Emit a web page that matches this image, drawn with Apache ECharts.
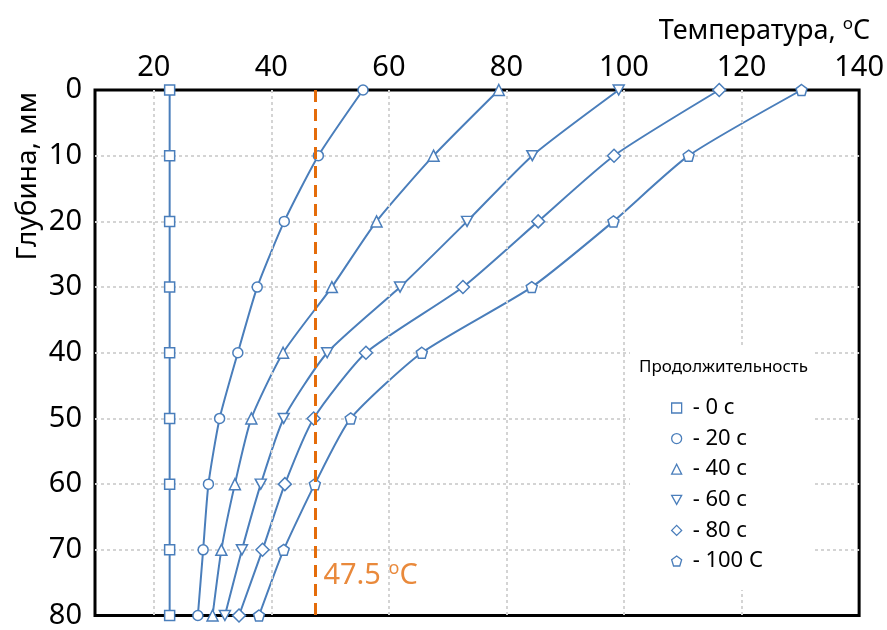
<!DOCTYPE html>
<html>
<head>
<meta charset="utf-8">
<script src="https://cdn.jsdelivr.net/npm/echarts@6/dist/echarts.min.js"></script>
<style>
  html, body { margin: 0; padding: 0; background: #fff; }
  #chart { width: 887px; height: 630px; }
</style>
</head>
<body>
<div id="chart"></div>
<script>
// Depth below the surface, mm
const depths = [0, 10, 20, 30, 40, 50, 60, 70, 80];

// Temperature profiles, °C, for each heating duration
const seriesNames = ['- 0 с', '- 20 с', '- 40 с', '- 60 с', '- 80 с', '- 100 С'];
const temp0s   = [22.7, 22.7, 22.7, 22.7, 22.7, 22.7, 22.7, 22.7, 22.7];
const temp20s  = [55.6, 48.0, 42.2, 37.6, 34.3, 31.2, 29.3, 28.4, 27.5];
const temp40s  = [78.7, 67.6, 57.9, 50.3, 42.0, 36.6, 33.8, 31.5, 30.0];
const temp60s  = [99.1, 84.4, 73.3, 61.9, 49.5, 42.1, 38.2, 35.0, 32.1];
const temp80s  = [116.2, 98.3, 85.4, 72.6, 56.1, 47.2, 42.3, 38.5, 34.5];
const temp100s = [130.2, 111.0, 98.2, 84.3, 65.6, 53.5, 47.4, 42.1, 37.9];

// Axis ticks
const tempTicks = [20, 40, 60, 80, 100, 120, 140];
const depthTicks = [0, 10, 20, 30, 40, 50, 60, 70, 80];

// Critical temperature marker
const thresholdTemp = 47.5;
const thresholdLabelDepth = 74;

const BLUE = '#4a7ebb';
const ORANGE = '#e46c0a';
const GRID_GREY = '#d4d4d4';
const FONT = 'Noto Sans';
const TEMP_MIN = 10;
const TEMP_MAX = 140;

const symbols = [
  'rect',
  'circle',
  'triangle',
  'path://M0,0L10,0L5,9Z',
  'diamond',
  'path://M5,0L10,3.7L8.1,10L1.9,10L0,3.7Z'
];
const symbolSizes = [10, 10, 11, [11, 10], 13, 11];
const profiles = [temp0s, temp20s, temp40s, temp60s, temp80s, temp100s];

const allSeries = [];

// Vertical dotted grid lines at the labelled temperatures
allSeries.push({
  name: 'tempGrid',
  type: 'line',
  data: [],
  silent: true,
  z: 1,
  markLine: {
    silent: true,
    symbol: ['none', 'none'],
    label: { show: false },
    emphasis: { disabled: true },
    lineStyle: { color: GRID_GREY, width: 2, type: [3, 3] },
    data: tempTicks.filter(v => v > TEMP_MIN && v < TEMP_MAX).map(v => ({ xAxis: v }))
  }
});

profiles.forEach((temps, i) => {
  allSeries.push({
    name: seriesNames[i],
    type: 'line',
    data: temps.map((t, k) => [t, depths[k]]),
    smooth: 0.2,
    symbol: symbols[i],
    symbolSize: symbolSizes[i],
    showAllSymbol: true,
    lineStyle: { color: BLUE, width: 2 },
    itemStyle: { color: '#fff', borderColor: BLUE, borderWidth: 1.5 },
    emphasis: { disabled: true },
    z: 3
  });
});

// Critical temperature: vertical dashed line and its caption
allSeries.push({
  name: 'threshold',
  type: 'line',
  data: [],
  z: 2,
  markLine: {
    silent: true,
    symbol: ['none', 'none'],
    label: { show: false },
    emphasis: { disabled: true },
    lineStyle: { color: ORANGE, width: 3, type: [12, 7] },
    data: [{ xAxis: thresholdTemp }]
  }
});
allSeries.push({
  name: 'thresholdLabel',
  type: 'scatter',
  data: [[thresholdTemp, thresholdLabelDepth]],
  symbolSize: 0,
  silent: true,
  label: {
    show: true,
    position: 'right',
    distance: 8,
    formatter: p => '{n|' + p.value[0] + ' }{s|o}{n|C}',
    rich: {
      n: { fontFamily: FONT, fontSize: 29, color: ORANGE, lineHeight: 34 },
      s: { fontFamily: FONT, fontSize: 18, color: ORANGE, lineHeight: 34, padding: [0, 0, 14, 0] }
    }
  }
});

const chart = echarts.init(document.getElementById('chart'), null, { renderer: 'canvas' });

chart.setOption({
  animation: false,
  backgroundColor: '#fff',
  grid: {
    left: 95, right: 19, top: 90, bottom: 11,
    show: true, borderColor: '#000', borderWidth: 3, backgroundColor: 'transparent'
  },
  xAxis: {
    type: 'value',
    position: 'top',
    min: TEMP_MIN,
    max: TEMP_MAX,
    axisLine: { show: false },
    axisTick: { show: false, customValues: tempTicks },
    axisLabel: {
      customValues: tempTicks,
      fontFamily: FONT, fontSize: 29, color: '#000', margin: 8
    },
    splitLine: { show: false }
  },
  yAxis: {
    type: 'value',
    inverse: true,
    min: depthTicks[0],
    max: depthTicks[depthTicks.length - 1],
    interval: 10,
    axisLine: { show: false },
    axisTick: { show: false },
    axisLabel: { fontFamily: FONT, fontSize: 29, color: '#000', margin: 13 },
    splitLine: {
      show: true, showMinLine: false, showMaxLine: false,
      lineStyle: { color: GRID_GREY, width: 2, type: [3, 3] }
    }
  },
  legend: {
    data: seriesNames.map((n, i) => ({ name: n, icon: symbols[i] })),
    orient: 'vertical',
    left: 630,
    top: 345,
    padding: [52, 50, 18, 41],
    backgroundColor: '#fff',
    itemWidth: 10,
    itemHeight: 10,
    itemGap: 8.6,
    selectedMode: false,
    itemStyle: { color: '#fff', borderColor: BLUE, borderWidth: 1.3 },
    textStyle: { fontFamily: FONT, fontSize: 22, lineHeight: 22, color: '#000', padding: [0, 0, 0, 6] },
    z: 10
  },
  graphic: [
    {
      type: 'text', z: 100,
      left: 639, top: 359,
      style: { text: 'Продолжительность', fontFamily: FONT, fontSize: 17, fill: '#000' }
    },
    {
      type: 'text', z: 100,
      x: 28, y: 176, rotation: Math.PI / 2,
      style: { text: 'Глубина, мм', fontFamily: FONT, fontSize: 28, fill: '#000', align: 'center', verticalAlign: 'middle' }
    },
    {
      type: 'text', z: 100,
      right: 17, top: 16,
      style: {
        text: '{n|Температура, }{s|o}{n|C}',
        rich: {
          n: { fontFamily: FONT, fontSize: 27, fill: '#000', lineHeight: 34 },
          s: { fontFamily: FONT, fontSize: 17, fill: '#000', lineHeight: 34, padding: [0, 0, 13, 0] }
        }
      }
    }
  ],
  series: allSeries
});
</script>
</body>
</html>
